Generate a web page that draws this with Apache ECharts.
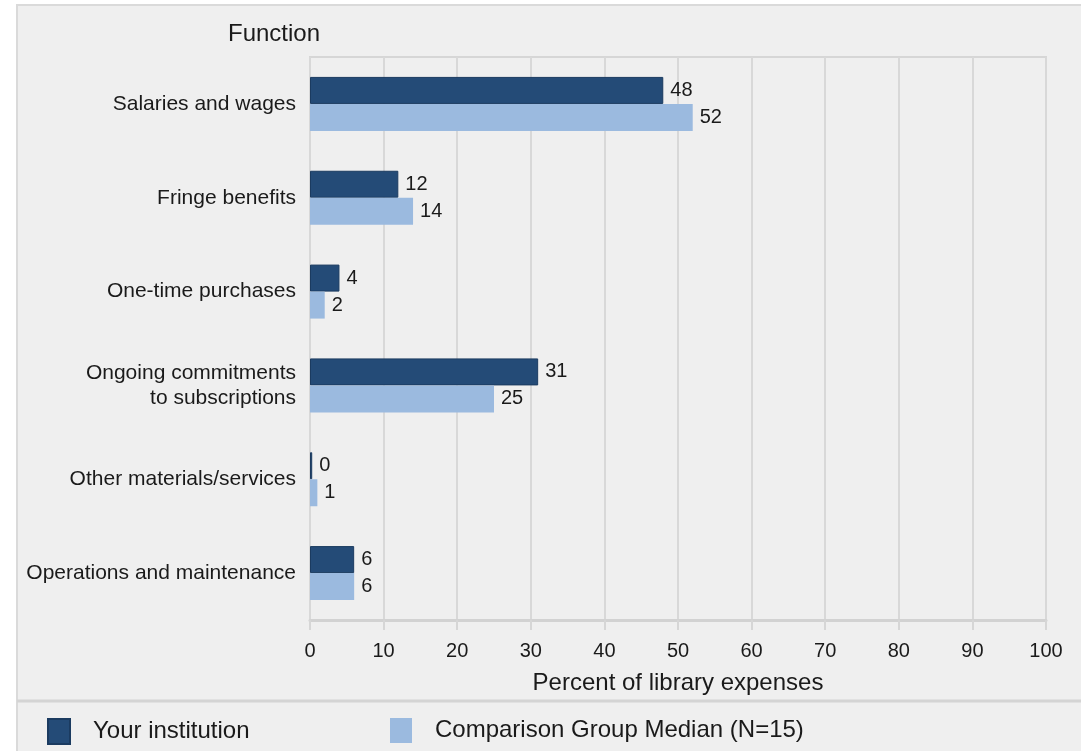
<!DOCTYPE html>
<html>
<head>
<meta charset="utf-8">
<script src="https://cdn.jsdelivr.net/npm/echarts@6/dist/echarts.min.js"></script>
<style>
  html, body { margin: 0; padding: 0; background: #ffffff; width: 1081px; height: 751px; overflow: hidden; }
  #frame { position: absolute; left: 16px; top: 4px; width: 1070px; height: 750px; background: #efefef; border-left: 2px solid #dadada; border-top: 2px solid #dadada; }
  #chart { position: absolute; left: 0; top: 0; width: 1081px; height: 751px; }
</style>
</head>
<body>
<div id="frame"></div>
<div id="chart"></div>
<script>
const categories = [
  "Salaries and wages",
  "Fringe benefits",
  "One-time purchases",
  "Ongoing commitments\nto subscriptions",
  "Other materials/services",
  "Operations and maintenance"
];
const yourInstitution = [48, 12, 4, 31, 0.3, 6];
const yourLabels = ["48", "12", "4", "31", "0", "6"];
const comparisonMedian = [52, 14, 2, 25, 1, 6];
const comparisonLabels = ["52", "14", "2", "25", "1", "6"];
const xTicks = [0, 10, 20, 30, 40, 50, 60, 70, 80, 90, 100];

const FONT = '"Liberation Sans", Arial, sans-serif';
const chart = echarts.init(document.getElementById('chart'), null, { renderer: 'canvas' });

chart.setOption({
  backgroundColor: 'transparent',
  animation: false,
  textStyle: { fontFamily: FONT },
  title: {
    text: 'Function',
    left: 223,
    top: 17,
    textStyle: { fontFamily: FONT, fontSize: 24, fontWeight: 'normal', color: '#1a1a1a' }
  },
  grid: {
    left: 310, right: 35, top: 57, bottom: 131,
    show: true, borderColor: '#d6d6d6', borderWidth: 2, backgroundColor: 'transparent'
  },
  xAxis: {
    type: 'value',
    min: xTicks[0], max: xTicks[xTicks.length - 1], interval: 10,
    axisLine: { show: true, lineStyle: { color: '#d2d2d2', width: 3 } },
    axisTick: { show: true, length: 10, lineStyle: { color: '#d6d6d6', width: 2 } },
    splitLine: { show: true, lineStyle: { color: '#d8d8d8', width: 2 } },
    axisLabel: { fontSize: 20, color: '#1a1a1a', margin: 21, fontFamily: FONT },
    name: 'Percent of library expenses',
    nameLocation: 'middle',
    nameGap: 51,
    nameTextStyle: { fontSize: 24, color: '#1a1a1a', fontFamily: FONT }
  },
  yAxis: {
    type: 'category',
    inverse: true,
    data: categories,
    axisLine: { show: false },
    axisTick: { show: false },
    splitLine: { show: false },
    axisLabel: { fontSize: 21, color: '#1a1a1a', margin: 14, lineHeight: 25, align: 'right', padding: [10, 0, 0, 0], fontFamily: FONT }
  },
  legend: [
    {
      data: ['Your institution'],
      left: 42, top: 713,
      icon: 'rect', itemWidth: 22, itemHeight: 25,
      textStyle: { fontSize: 24, color: '#1a1a1a', padding: [0, 0, 0, 18], fontFamily: FONT }
    },
    {
      data: ['Comparison Group Median (N=15)'],
      left: 385, top: 713,
      icon: 'rect', itemWidth: 22, itemHeight: 25,
      textStyle: { fontSize: 24, color: '#1a1a1a', padding: [0, 0, 0, 18], fontFamily: FONT }
    }
  ],
  graphic: [
    { type: 'line', shape: { x1: 17, y1: 701, x2: 1081, y2: 701 }, style: { stroke: '#d4d4d4', lineWidth: 3 } }
  ],
  series: [
    {
      name: 'Your institution',
      type: 'bar',
      data: yourInstitution,
      barWidth: 27,
      barGap: '0%',
      itemStyle: { color: '#244b77', borderColor: '#1b3b60', borderWidth: 1 },
      label: {
        show: true, position: 'right', distance: 7, fontSize: 20, color: '#1a1a1a', fontFamily: FONT,
        formatter: p => yourLabels[p.dataIndex]
      }
    },
    {
      name: 'Comparison Group Median (N=15)',
      type: 'bar',
      data: comparisonMedian,
      barWidth: 27,
      itemStyle: { color: '#9bbadf' },
      label: {
        show: true, position: 'right', distance: 7, fontSize: 20, color: '#1a1a1a', fontFamily: FONT,
        formatter: p => comparisonLabels[p.dataIndex]
      }
    }
  ]
});
</script>
</body>
</html>
